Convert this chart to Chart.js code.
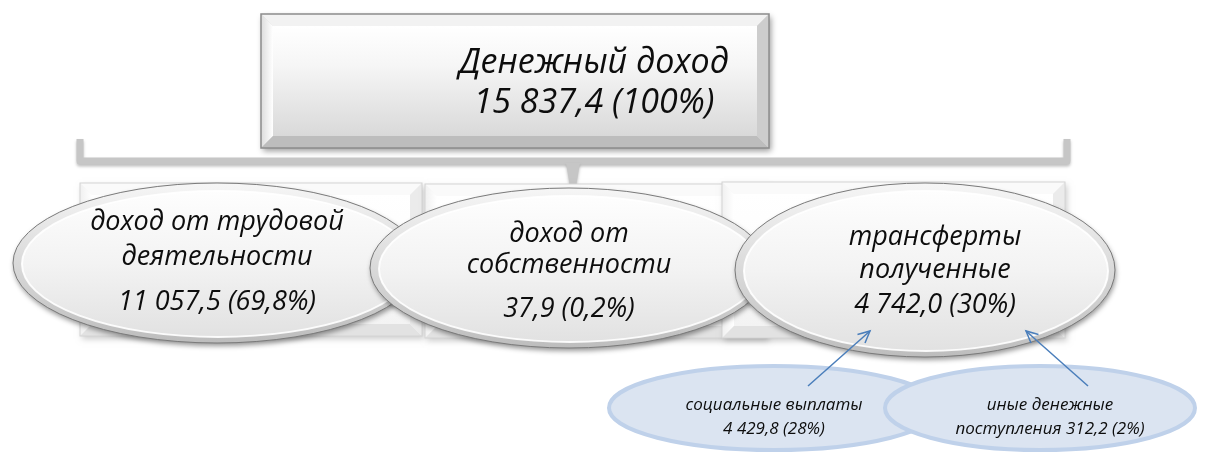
<!DOCTYPE html>
<html>
<head>
<meta charset="utf-8">
<script src="https://cdn.jsdelivr.net/npm/chart.js@4.4.1/dist/chart.umd.min.js"></script>
<style>
  body { margin: 0; background: #ffffff; }
  #wrap { width: 1221px; height: 461px; }
</style>
</head>
<body>
<div id="wrap"><canvas id="myChart" width="1221" height="461"></canvas></div>
<script>
// Income structure diagram drawn on a hidden Chart.js scatter

// data
const nodeTitles = [
    ['Денежный доход'],
    ['доход от трудовой', 'деятельности'],
    ['доход от', 'собственности'],
    ['трансферты', 'полученные'],
    ['социальные выплаты'],
    ['иные денежные']
];
const nodeValues = [15837.4, 11057.5, 37.9, 4742.0, 4429.8, 312.2];
const nodeShares = [100, 69.8, 0.2, 30, 28, 2];
const nodeParent = [-1, 0, 0, 0, 3, 3];

// layout (diagram units, same as pixels of the 1221x461 canvas)
const layoutX = [515, 217, 569, 925, 774, 1040];
const layoutY = [81, 263, 268, 270, 408, 408];

function fmtNum(v, dec) {
    let s = v.toFixed(dec).split('.');
    let int = s[0].replace(/\B(?=(\d{3})+(?!\d))/g, ' ');
    return dec > 0 ? int + ',' + s[1] : int;
}
function fmtShare(v) {
    return (Math.round(v) === v ? String(v) : String(v).replace('.', ',')) + '%';
}

const FONT = '"Open Sans", "Noto Sans", sans-serif';

const diagramPlugin = {
    id: 'diagram',
    afterDatasetsDraw(chart) {
        const ctx = chart.ctx;
        const sx = chart.scales.x, sy = chart.scales.y;
        const X = v => sx.getPixelForValue(v);
        const Y = v => sy.getPixelForValue(v);
        const W = v => sx.getPixelForValue(v) - sx.getPixelForValue(0);
        const H = v => sy.getPixelForValue(v) - sy.getPixelForValue(0);

        function bevelRect(x0, y0, x1, y1, b, light) {
            x0 = X(x0); x1 = X(x1); y0 = Y(y0); y1 = Y(y1);
            ctx.save();
            ctx.shadowColor = light ? 'rgba(0,0,0,0.2)' : 'rgba(0,0,0,0.4)';
            ctx.shadowBlur = 6; ctx.shadowOffsetX = 2; ctx.shadowOffsetY = 3;
            ctx.fillStyle = light ? '#f4f4f4' : '#d6d6d6';
            ctx.fillRect(x0, y0, x1 - x0, y1 - y0);
            ctx.restore();
            const poly = (pts, fill) => {
                ctx.beginPath();
                ctx.moveTo(pts[0][0], pts[0][1]);
                pts.slice(1).forEach(p => ctx.lineTo(p[0], p[1]));
                ctx.closePath();
                ctx.fillStyle = fill; ctx.fill();
            };
            poly([[x0, y0], [x1, y0], [x1 - b, y0 + b], [x0 + b, y0 + b]], light ? '#fafafa' : '#f2f2f2');
            let lg = ctx.createLinearGradient(x0, 0, x0 + b, 0);
            lg.addColorStop(0, light ? '#f0f0f0' : '#dcdcdc');
            lg.addColorStop(1, '#ffffff');
            poly([[x0, y0], [x0 + b, y0 + b], [x0 + b, y1 - b], [x0, y1]], lg);
            poly([[x0, y1], [x0 + b, y1 - b], [x1 - b, y1 - b], [x1, y1]], light ? '#e2e2e2' : '#bdbdbd');
            poly([[x1, y0], [x1, y1], [x1 - b, y1 - b], [x1 - b, y0 + b]], light ? '#ebebeb' : '#cdcdcd');
            let g = ctx.createLinearGradient(0, y0 + b, 0, y1 - b);
            g.addColorStop(0, '#ffffff');
            g.addColorStop(0.35, light ? '#fdfdfd' : '#f6f6f6');
            g.addColorStop(1, light ? '#f3f3f3' : '#d9d9d9');
            ctx.fillStyle = g;
            ctx.fillRect(x0 + b, y0 + b, x1 - x0 - 2 * b, y1 - y0 - 2 * b);
            ctx.strokeStyle = light ? '#d4d4d4' : '#8c8c8c';
            ctx.lineWidth = light ? 1 : 1.5;
            ctx.strokeRect(x0, y0, x1 - x0, y1 - y0);
        }

        function grayOval(cx, cy, rx, ry) {
            cx = X(cx); cy = Y(cy); rx = W(rx); ry = H(ry);
            ctx.save();
            ctx.shadowColor = 'rgba(0,0,0,0.4)';
            ctx.shadowBlur = 5; ctx.shadowOffsetX = 1; ctx.shadowOffsetY = 3;
            let g = ctx.createLinearGradient(0, cy - ry, 0, cy + ry);
            g.addColorStop(0, '#f6f6f6');
            g.addColorStop(1, '#bdbdbd');
            ctx.beginPath(); ctx.ellipse(cx, cy, rx, ry, 0, 0, Math.PI * 2);
            ctx.fillStyle = g; ctx.fill();
            ctx.restore();
            ctx.beginPath(); ctx.ellipse(cx, cy, rx, ry, 0, 0, Math.PI * 2);
            ctx.strokeStyle = '#7a7a7a'; ctx.lineWidth = 1; ctx.stroke();
            let g2 = ctx.createLinearGradient(0, cy - ry, 0, cy + ry);
            g2.addColorStop(0, '#ffffff');
            g2.addColorStop(0.5, '#f3f3f3');
            g2.addColorStop(1, '#e0e0e0');
            ctx.beginPath(); ctx.ellipse(cx + 1, cy + 1, rx - 8, ry - 7, 0, 0, Math.PI * 2);
            ctx.fillStyle = g2; ctx.fill();
            ctx.strokeStyle = 'rgba(255,255,255,0.9)'; ctx.lineWidth = 2; ctx.stroke();
        }

        function blueOval(cx, cy, rx, ry) {
            cx = X(cx); cy = Y(cy); rx = W(rx); ry = H(ry);
            ctx.beginPath(); ctx.ellipse(cx, cy, rx, ry, 0, 0, Math.PI * 2);
            ctx.fillStyle = '#dbe4f1'; ctx.fill();
            ctx.strokeStyle = '#bfd1ea'; ctx.lineWidth = 4; ctx.stroke();
        }

        function text(lines, cx, baselines, size) {
            ctx.fillStyle = '#0d0d0d';
            ctx.textAlign = 'center';
            ctx.textBaseline = 'alphabetic';
            ctx.font = 'italic ' + size + 'px ' + FONT;
            lines.forEach((t, i) => ctx.fillText(t, X(cx), Y(baselines[i])));
        }

        function arrow(x0, y0, x1, y1) {
            x0 = X(x0); y0 = Y(y0); x1 = X(x1); y1 = Y(y1);
            const a = Math.atan2(y1 - y0, x1 - x0), L = 13, s = 0.45;
            ctx.strokeStyle = '#4a7ebb'; ctx.lineWidth = 1.5;
            ctx.beginPath(); ctx.moveTo(x0, y0); ctx.lineTo(x1, y1); ctx.stroke();
            ctx.beginPath();
            ctx.moveTo(x1 - L * Math.cos(a - s), y1 - L * Math.sin(a - s));
            ctx.lineTo(x1, y1);
            ctx.lineTo(x1 - L * Math.cos(a + s), y1 - L * Math.sin(a + s));
            ctx.stroke();
        }

        const valueLine = i => fmtNum(nodeValues[i], 1) + ' (' + fmtShare(nodeShares[i]) + ')';

        // root box
        bevelRect(layoutX[0] - 254, layoutY[0] - 67, layoutX[0] + 254, layoutY[0] + 67, 12, false);
        text([nodeTitles[0][0], valueLine(0)], layoutX[0] + 79, [layoutY[0] - 8, layoutY[0] + 32], 34);

        // bracket
        ctx.save();
        ctx.shadowColor = 'rgba(0,0,0,0.25)'; ctx.shadowBlur = 3; ctx.shadowOffsetY = 2;
        ctx.strokeStyle = '#c6c6c6'; ctx.lineWidth = 7; ctx.lineJoin = 'round'; ctx.lineCap = 'butt';
        ctx.beginPath();
        ctx.moveTo(X(80), Y(139)); ctx.lineTo(X(80), Y(161));
        ctx.lineTo(X(1067), Y(161)); ctx.lineTo(X(1067), Y(139));
        ctx.stroke();
        ctx.beginPath();
        ctx.moveTo(X(566), Y(163)); ctx.lineTo(X(580), Y(163));
        ctx.lineTo(X(576), Y(187)); ctx.lineTo(X(570), Y(187)); ctx.closePath();
        ctx.fillStyle = '#c6c6c6'; ctx.fill();
        ctx.restore();

        // cards behind ovals
        bevelRect(80, 183, 422, 336, 12, true);
        bevelRect(425, 184, 767, 338, 12, true);
        bevelRect(722, 182, 1065, 338, 12, true);

        // second level ovals
        const ovalR = [[204, 80], [199, 80], [190, 87]];
        const textDx = [0, 0, 10];
        const baseY = [[230, 265, 310], [242, 273, 317], [245, 278, 313]];
        for (let i = 1; i <= 3; i++) {
            grayOval(layoutX[i], layoutY[i], ovalR[i - 1][0], ovalR[i - 1][1]);
            text(nodeTitles[i].concat([valueLine(i)]), layoutX[i] + textDx[i - 1], baseY[i - 1], 27);
        }

        // third level ovals
        blueOval(layoutX[4], layoutY[4], 165, 42);
        blueOval(layoutX[5], layoutY[5], 155, 42);
        text([nodeTitles[4][0], valueLine(4)], layoutX[4], [layoutY[4] + 2, layoutY[4] + 26], 17);
        text([nodeTitles[5][0], 'поступления ' + valueLine(5)], layoutX[5] + 10, [layoutY[5] + 2, layoutY[5] + 26], 17);

        // arrows to parent
        arrow(808, 386, 870, 331);
        arrow(1088, 386, 1026, 331);
    }
};

const ctx = document.getElementById('myChart');
const myChart = new Chart(ctx, {
    type: 'scatter',
    data: {
        datasets: [{
            data: layoutX.map((x, i) => ({ x: x, y: layoutY[i] })),
            pointRadius: 0
        }]
    },
    options: {
        responsive: false,
        animation: false,
        layout: { padding: 0 },
        plugins: {
            legend: { display: false },
            tooltip: { enabled: false }
        },
        scales: {
            x: { type: 'linear', min: 0, max: 1221, display: false },
            y: { type: 'linear', min: 0, max: 461, reverse: true, display: false }
        }
    },
    plugins: [diagramPlugin]
});
</script>
</body>
</html>
